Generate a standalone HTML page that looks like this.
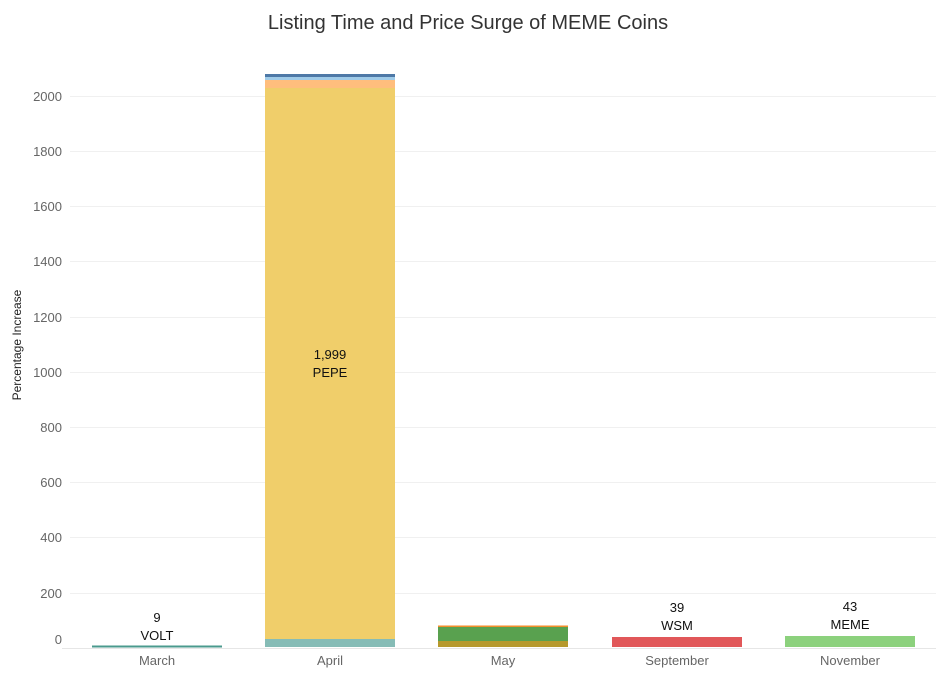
<!DOCTYPE html>
<html><head><meta charset="utf-8"><style>
body{margin:0;background:#fff;}
svg text{font-family:"Liberation Sans",sans-serif;}
</style></head><body>
<svg width="936" height="670" viewBox="0 0 936 670" xmlns="http://www.w3.org/2000/svg">
<text x="468" y="29" font-size="20" fill="#333" text-anchor="middle">Listing Time and Price Surge of MEME Coins</text>
<g stroke="#f0f0f0" stroke-width="1">
<line x1="70" x2="936" y1="96.5" y2="96.5"/>
<line x1="70" x2="936" y1="151.5" y2="151.5"/>
<line x1="70" x2="936" y1="206.5" y2="206.5"/>
<line x1="70" x2="936" y1="261.5" y2="261.5"/>
<line x1="70" x2="936" y1="317.5" y2="317.5"/>
<line x1="70" x2="936" y1="372.5" y2="372.5"/>
<line x1="70" x2="936" y1="427.5" y2="427.5"/>
<line x1="70" x2="936" y1="482.5" y2="482.5"/>
<line x1="70" x2="936" y1="537.5" y2="537.5"/>
<line x1="70" x2="936" y1="593.5" y2="593.5"/>
<line x1="62" x2="936" y1="648.5" y2="648.5" stroke="#e6e6e6"/>
</g>
<g font-size="13" fill="#666" text-anchor="end">
<text x="62" y="101">2000</text><text x="62" y="156">1800</text><text x="62" y="211">1600</text>
<text x="62" y="266">1400</text><text x="62" y="322">1200</text><text x="62" y="377">1000</text>
<text x="62" y="432">800</text><text x="62" y="487">600</text><text x="62" y="542">400</text>
<text x="62" y="598">200</text><text x="62" y="644">0</text>
</g>
<text transform="translate(21,345) rotate(-90)" font-size="12" fill="#222" text-anchor="middle">Percentage Increase</text>
<!-- March -->
<rect x="92" y="645.5" width="130" height="2" fill="#4a9a8e"/>
<!-- April -->
<rect x="265" y="74" width="130" height="3" fill="#4e79a7"/>
<rect x="265" y="77" width="130" height="3" fill="#a0cbe8"/>
<rect x="265" y="80" width="130" height="8" fill="#ffbe7d"/>
<rect x="265" y="88" width="130" height="551" fill="#f0ce6a"/>
<rect x="265" y="639" width="130" height="8" fill="#86bcb6"/>
<!-- May -->
<rect x="438" y="625.5" width="130" height="1.5" fill="#f28e2b"/>
<rect x="438" y="627" width="130" height="14" fill="#59a14f"/>
<rect x="438" y="641" width="130" height="6" fill="#b6992d"/>
<!-- Sep, Nov -->
<rect x="612" y="637" width="130" height="10" fill="#e15759"/>
<rect x="785" y="636" width="130" height="11" fill="#8cd17d"/>
<g font-size="13" fill="#111" text-anchor="middle">
<text x="157" y="622">9</text><text x="157" y="640">VOLT</text>
<text x="330" y="359">1,999</text><text x="330" y="377">PEPE</text>
<text x="677" y="612">39</text><text x="677" y="630">WSM</text>
<text x="850" y="611">43</text><text x="850" y="629">MEME</text>
</g>
<g font-size="13" fill="#666" text-anchor="middle">
<text x="157" y="665">March</text><text x="330" y="665">April</text><text x="503" y="665">May</text>
<text x="677" y="665">September</text><text x="850" y="665">November</text>
</g>
</svg>
</body></html>
